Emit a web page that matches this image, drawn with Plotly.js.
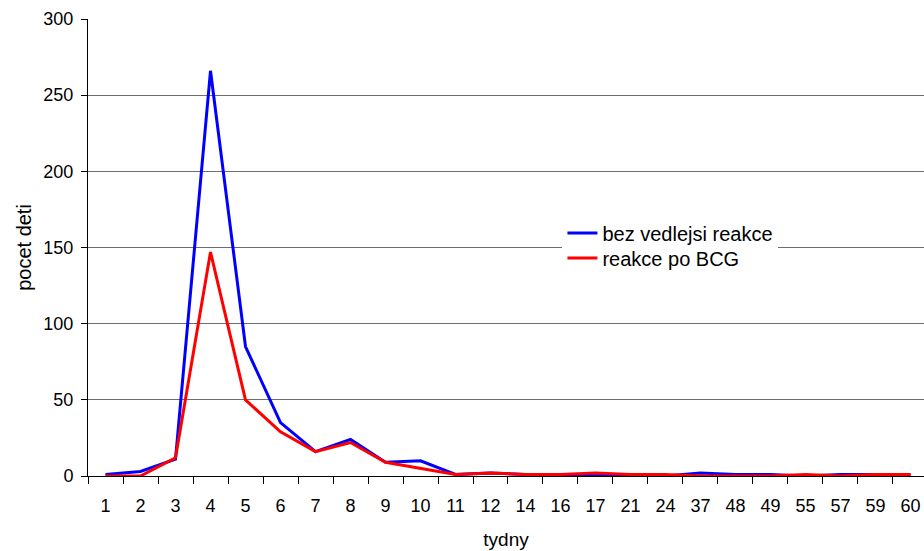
<!DOCTYPE html>
<html>
<head>
<meta charset="utf-8">
<script src="https://cdn.plot.ly/plotly-3.0.1.min.js"></script>
<style>html,body{margin:0;padding:0;background:#fff}#chart{width:924px;height:551px}</style>
</head>
<body>
<div id="chart"></div>
<script>
const weeks = ["1","2","3","4","5","6","7","8","9","10","11","12","14","16","17","21","24","37","48","49","55","57","59","60"];
const bezReakce = [1,3,11,266,85,35,16,24,9,10,1,2,1,1,1,1,0,2,1,1,0,1,1,1];
const reakceBCG = [0,0,12,147,50,29,16,22,9,5,1,2,1,1,2,1,1,0,0,0,1,0,1,1];
const seriesNames = ["bez vedlejsi reakce","reakce po BCG"];

const traces = [
  {x: weeks, y: bezReakce, name: seriesNames[0], type: "scatter", mode: "lines",
   line: {color: "#0000ff", width: 3}, legend: "legend"},
  {x: weeks, y: reakceBCG, name: seriesNames[1], type: "scatter", mode: "lines",
   line: {color: "#ff0000", width: 3}, legend: "legend2"}
];

const legendBase = {xanchor: "left", yanchor: "top",
  font: {size: 20}, borderwidth: 0, itemwidth: 30};

const layout = {
  width: 924, height: 551,
  margin: {l: 88, r: 0, t: 19, b: 75},
  paper_bgcolor: "#fff", plot_bgcolor: "#fff",
  font: {family: "Liberation Sans, Arial, sans-serif", size: 18, color: "#000"},
  showlegend: true,
  legend: Object.assign({x: 0.5675, y: 0.5744, bgcolor: "#fff"}, legendBase),
  legend2: Object.assign({x: 0.5675, y: 0.5197, bgcolor: "rgba(255,255,255,0)"}, legendBase),
  xaxis: {
    type: "category", range: [-0.5, 23.386],
    showline: true, linecolor: "#000", linewidth: 1,
    ticks: "outside", tickson: "boundaries", ticklen: 7, tickcolor: "#000",
    showgrid: false, zeroline: false, automargin: false,
    ticklabelstandoff: 13,
    title: {text: "tydny", font: {size: 19}, standoff: 18},
    tickfont: {size: 18}
  },
  yaxis: {
    range: [0, 300], dtick: 50,
    showline: true, linecolor: "#000", linewidth: 1,
    ticks: "outside", ticklen: 6, tickcolor: "#000",
    showgrid: true, gridcolor: "#6e6e6e", gridwidth: 1,
    zeroline: false, automargin: false,
    ticklabelstandoff: 4,
    title: {text: "pocet deti", font: {size: 20}, standoff: 6},
    tickfont: {size: 18}
  }
};

Plotly.newPlot("chart", traces, layout, {displayModeBar: false, staticPlot: true});
</script>
</body>
</html>
